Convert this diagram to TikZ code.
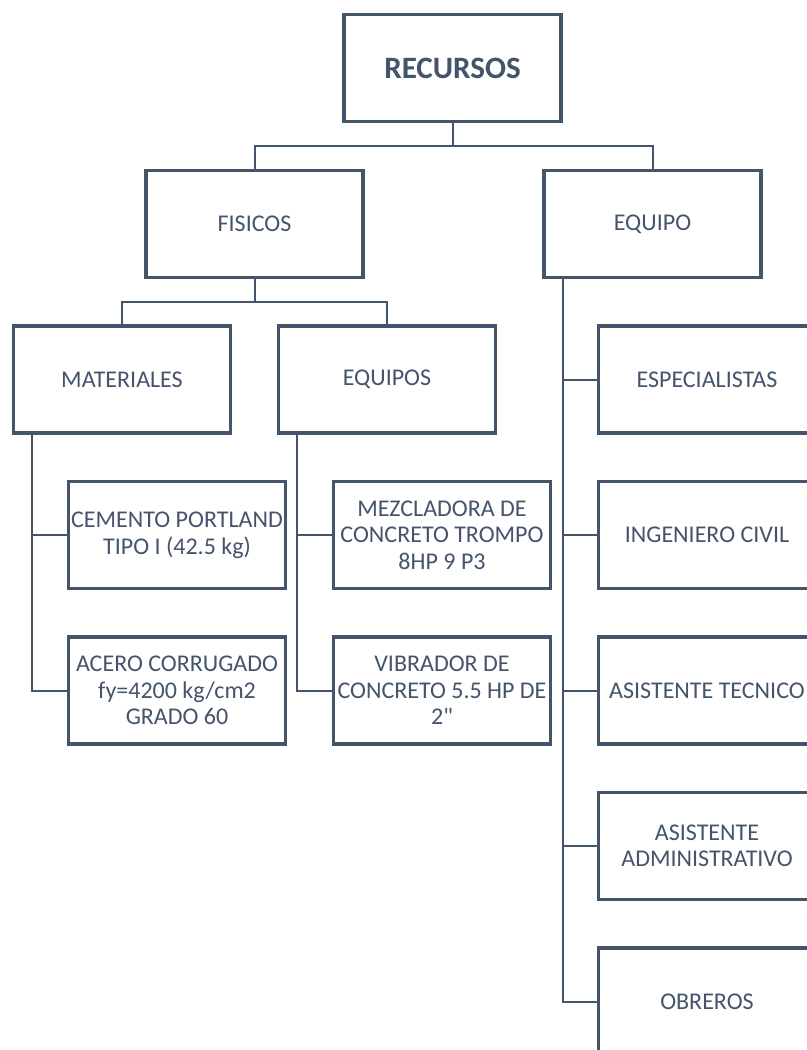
\documentclass[tikz,border=0pt]{standalone}
\usepackage{fontspec}
\setmainfont{Carlito}
\newfontfamily\plainquote[Ligatures=TeXOff]{Carlito}
\definecolor{slate}{HTML}{44546A}
\begin{document}
\begin{tikzpicture}[x=0.75pt,y=-0.75pt,
  box/.style={draw=slate,line width=2.5pt,fill=white,text=slate,align=center,
    minimum width=162.75pt,minimum height=80.25pt,inner sep=0pt,
    font=\fontsize{18}{19.9}\selectfont},
  link/.style={draw=slate,line width=1.5pt}]
\useasboundingbox (0,0) rectangle (807,1050);
\clip (0,0) rectangle (807,1050);
\coordinate (j1) at (452.5,146);
\coordinate (j2) at (254.5,302);
% nodes
\node[box,font=\fontsize{23.3}{26}\selectfont\bfseries] (rec) at (452.5,68) {RECURSOS};
\node[box] (fis) at (254.5,224) {FISICOS};
\node[box] (equ) at (652.5,224) {EQUIPO};
\node[box] (mat) at (122,379.5) {MATERIALES};
\node[box] (eqs) at (387,379.5) {EQUIPOS};
\node[box] (cem) at (177,535) {CEMENTO PORTLAND\\TIPO I (42.5 kg)};
\node[box] (ace) at (177,690.5) {ACERO CORRUGADO\\fy=4200 kg/cm2\\GRADO 60};
\node[box] (mez) at (442,535) {MEZCLADORA DE\\CONCRETO TROMPO\\8HP 9 P3};
\node[box] (vib) at (442,690.5) {VIBRADOR DE\\CONCRETO 5.5 HP DE\\2{\plainquote"}};
\node[box] (esp) at (707,379.5) {ESPECIALISTAS};
\node[box] (ing) at (707,535) {INGENIERO CIVIL};
\node[box] (ast) at (707,690.5) {ASISTENTE TECNICO};
\node[box] (asa) at (707,846) {ASISTENTE\\ADMINISTRATIVO};
\node[box] (obr) at (707,1001.5) {OBREROS};
% links
\path[link] (rec.south) -- (j1);
\path[link] (fis.north) |- (j1) -| (equ.north);
\path[link] (fis.south) -- (j2);
\path[link] (mat.north) |- (j2) -| (eqs.north);
\coordinate (tm) at ([xshift=15.4pt]mat.south west);
\coordinate (te) at ([xshift=15.4pt]eqs.south west);
\coordinate (tq) at ([xshift=15.4pt]equ.south west);
\path[link] (tm) |- (cem.west);
\path[link] (tm) |- (ace.west);
\path[link] (te) |- (mez.west);
\path[link] (te) |- (vib.west);
\path[link] (tq) |- (esp.west);
\path[link] (tq) |- (ing.west);
\path[link] (tq) |- (ast.west);
\path[link] (tq) |- (asa.west);
\path[link] (tq) |- (obr.west);
\end{tikzpicture}
\end{document}
